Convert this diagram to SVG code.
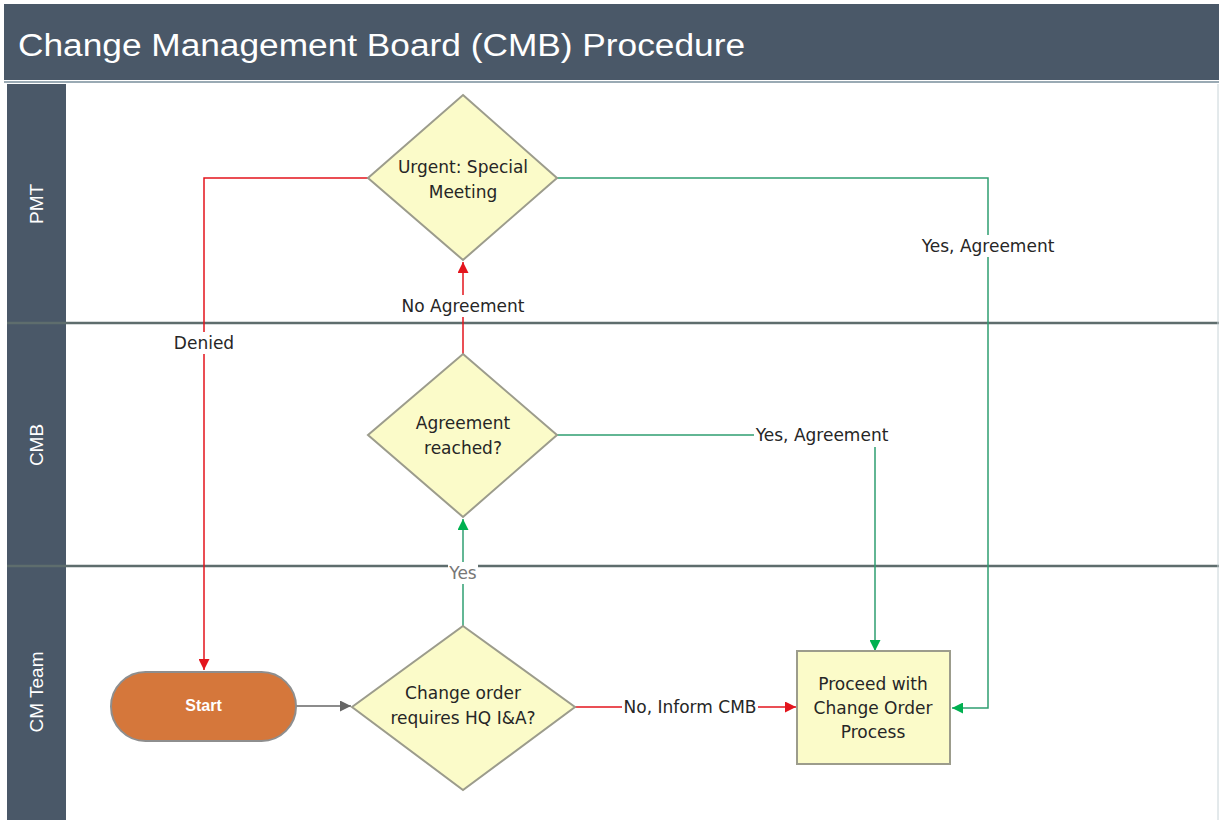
<svg xmlns="http://www.w3.org/2000/svg" width="1219" height="820" viewBox="0 0 1219 820">
<style>
.t{font-family:"DejaVu Sans","Liberation Sans",Arial,sans-serif;font-size:17px;fill:#262626;text-anchor:middle}
.l{font-family:"DejaVu Sans","Liberation Sans",Arial,sans-serif;font-size:17px;fill:#262626;text-anchor:middle}
.lane{font-family:"Liberation Sans",Arial,sans-serif;font-size:19px;fill:#fff;text-anchor:middle}
.dia{fill:#fbfbc9;stroke:#9c9c8c;stroke-width:2}
.red{fill:none;stroke:#e3151d;stroke-width:1.5}
.grn{fill:none;stroke:#2f9f72;stroke-width:1.5}
.gry{fill:none;stroke:#666;stroke-width:1.5}
.bg{fill:#fff}
.div{stroke:#5e6d6d;stroke-width:2.5}
</style>
<defs>
<marker id="ar" viewBox="0 0 10 10" refX="10" refY="5" markerWidth="11" markerHeight="11" markerUnits="userSpaceOnUse" orient="auto"><path d="M0,0 L10,5 L0,10 z" fill="#e3151d"/></marker>
<marker id="ag" viewBox="0 0 10 10" refX="10" refY="5" markerWidth="11" markerHeight="11" markerUnits="userSpaceOnUse" orient="auto"><path d="M0,0 L10,5 L0,10 z" fill="#00b050"/></marker>
<marker id="ak" viewBox="0 0 10 10" refX="10" refY="5" markerWidth="11" markerHeight="11" markerUnits="userSpaceOnUse" orient="auto"><path d="M0,0 L10,5 L0,10 z" fill="#666"/></marker>
</defs>
<rect x="0" y="0" width="1219" height="820" fill="#fff"/>
<g id="title">
<rect x="4" y="4" width="1215" height="76" fill="#4a5868"/>
<line x1="4" y1="82" x2="1219" y2="82" stroke="#9aaab4" stroke-width="2"/>
<text x="18" y="56" font-family="Liberation Sans,Arial,sans-serif" font-size="31" fill="#fff" textLength="727" lengthAdjust="spacingAndGlyphs">Change Management Board (CMB) Procedure</text>
</g>
<g id="lanes">
<rect x="7" y="84" width="59" height="736" fill="#4a5868"/>
<line class="div" x1="7" y1="323" x2="1219" y2="323"/>
<line class="div" x1="7" y1="566" x2="1219" y2="566"/>
<line x1="1218" y1="84" x2="1218" y2="820" stroke="#c8d4d8" stroke-width="1"/>
<text class="lane" transform="translate(43,204) rotate(-90)">PMT</text>
<text class="lane" transform="translate(43,445) rotate(-90)">CMB</text>
<text class="lane" transform="translate(43,692) rotate(-90)">CM Team</text>
</g>
<g id="connectors">
<path class="red" d="M368,178 H204 V670" marker-end="url(#ar)"/>
<path class="red" d="M463,354 V262" marker-end="url(#ar)"/>
<path class="grn" d="M463,626 V519" marker-end="url(#ag)"/>
<path class="grn" d="M557,435 H875 V651" marker-end="url(#ag)"/>
<path class="grn" d="M557,178 H988 V708 H952" marker-end="url(#ag)"/>
<path class="gry" d="M296,706 H351" marker-end="url(#ak)"/>
<path class="red" d="M575,707 H796" marker-end="url(#ar)"/>
<rect class="bg" x="173" y="332" width="62" height="22"/>
<text class="l" x="204" y="349">Denied</text>
<rect class="bg" x="401" y="295" width="124" height="22"/>
<text class="l" x="463" y="312">No Agreement</text>
<rect class="bg" x="448" y="562" width="30" height="22"/>
<text class="l" x="463" y="579" style="fill:#777">Yes</text>
<rect class="bg" x="754" y="425" width="136" height="22"/>
<text class="l" x="822" y="441">Yes, Agreement</text>
<rect class="bg" x="920" y="235" width="136" height="22"/>
<text class="l" x="988" y="252">Yes, Agreement</text>
<rect class="bg" x="622" y="697" width="136" height="22"/>
<text class="l" x="690" y="713">No, Inform CMB</text>
</g>
<g id="urgent">
<polygon class="dia" points="463,95 557,178 463,260 368,178"/>
<text class="t" x="463" y="173">Urgent: Special</text>
<text class="t" x="463" y="198">Meeting</text>
</g>
<g id="agreement">
<polygon class="dia" points="463,354 557,435 463,517 368,435"/>
<text class="t" x="463" y="429">Agreement</text>
<text class="t" x="463" y="454">reached?</text>
</g>
<g id="changeorder">
<polygon class="dia" points="463,626 575,707 463,790 352,707"/>
<text class="t" x="463" y="699">Change order</text>
<text class="t" x="463" y="724">requires HQ I&amp;A?</text>
</g>
<g id="start">
<rect x="111" y="672" width="185" height="69" rx="34.5" fill="#d5773b" stroke="#8e8e8e" stroke-width="2"/>
<text x="203.5" y="711" font-family="Liberation Sans,Arial,sans-serif" font-size="16" font-weight="bold" fill="#fff" text-anchor="middle">Start</text>
</g>
<g id="proceed">
<rect x="797" y="651" width="153" height="113" fill="#fbfbc9" stroke="#9c9c8c" stroke-width="2"/>
<text class="t" x="873" y="690">Proceed with</text>
<text class="t" x="873" y="714">Change Order</text>
<text class="t" x="873" y="738">Process</text>
</g>
</svg>
